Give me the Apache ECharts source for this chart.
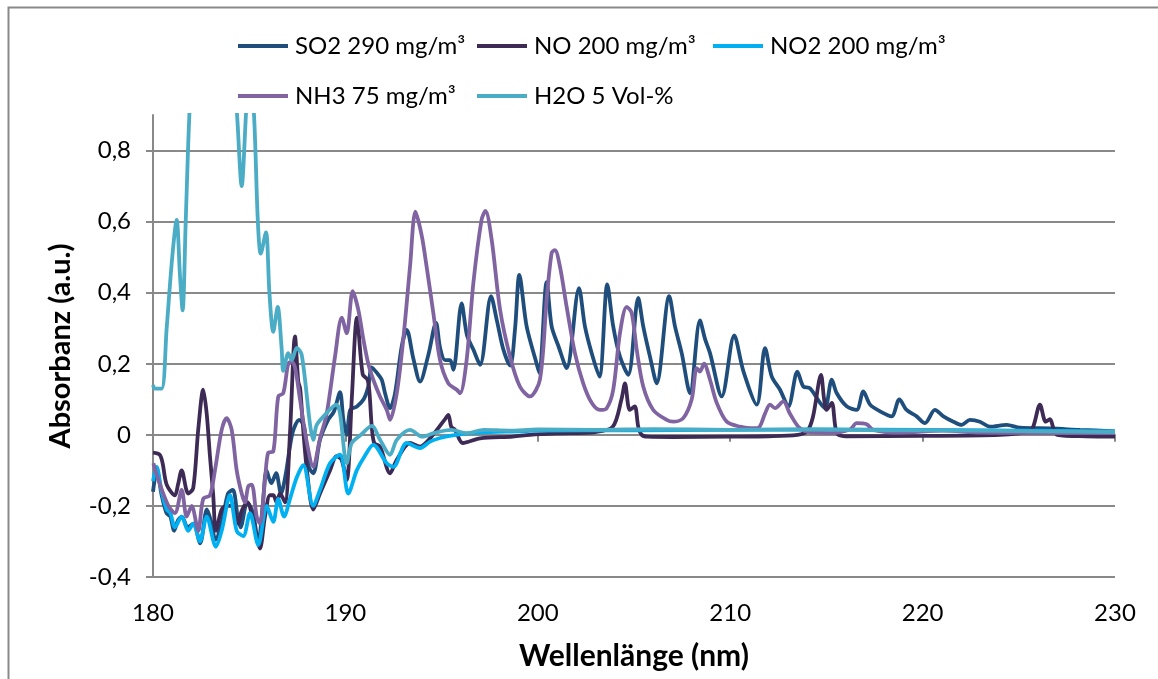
<!DOCTYPE html>
<html>
<head>
<meta charset="utf-8">
<script src="https://cdn.jsdelivr.net/npm/echarts@6/dist/echarts.min.js"></script>
<style>
html,body{margin:0;padding:0;background:#fff;}
#chart{width:1158px;height:679px;}
</style>
</head>
<body>
<div id="chart"></div>
<script>
var seriesNames = ['SO2 290 mg/m³', 'NO 200 mg/m³', 'NO2 200 mg/m³', 'NH3 75 mg/m³', 'H2O 5 Vol-%'];
var seriesColors = ['#1F4E7D', '#3D2B55', '#00B0F0', '#8064A2', '#4BACC6'];

var so2X = [180.0,180.2,180.45,180.7,180.9,181.1,181.3,181.5,181.8,182.1,182.45,182.8,183.0,183.25,183.6,183.9,184.15,184.4,184.55,184.9,185.2,185.47,185.7,185.9,186.15,186.4,186.65,186.9,187.25,187.6,187.85,188.1,188.33,188.68,189.1,189.4,189.72,189.9,190.07,190.25,190.6,190.95,191.19,191.37,191.63,191.89,192.06,192.32,192.58,192.93,193.19,193.53,193.88,194.31,194.71,194.92,195.18,195.44,195.61,196.04,196.32,196.65,197.0,197.57,197.88,198.21,198.56,198.82,199.04,199.42,199.94,200.08,200.46,200.72,201.07,201.5,202.14,202.45,202.8,203.2,203.61,203.92,204.27,204.7,205.22,205.48,205.83,206.18,206.83,207.13,207.48,207.91,208.43,208.69,208.95,209.56,210.21,210.68,211.38,211.81,212.16,212.59,213.02,213.49,213.8,214.15,214.67,214.93,215.28,215.54,216.06,216.57,216.92,217.27,217.79,218.39,218.79,219.17,219.69,220.12,220.64,221.08,221.6,222.03,222.46,222.98,223.5,224.37,225.06,226.62,228.18,230.0];
var so2Y = [-0.16,-0.10,-0.17,-0.22,-0.23,-0.27,-0.24,-0.23,-0.26,-0.25,-0.305,-0.21,-0.24,-0.295,-0.24,-0.165,-0.155,-0.23,-0.26,-0.19,-0.22,-0.305,-0.2,-0.10,-0.136,-0.108,-0.165,-0.11,0.005,0.042,0.025,-0.09,-0.108,-0.014,0.042,0.065,0.12,0.04,0.0,0.07,0.08,0.1,0.136,0.19,0.175,0.155,0.117,0.075,0.117,0.25,0.295,0.215,0.15,0.225,0.315,0.245,0.21,0.21,0.183,0.37,0.28,0.24,0.197,0.39,0.32,0.24,0.195,0.3,0.45,0.305,0.2,0.174,0.43,0.305,0.25,0.188,0.413,0.305,0.23,0.164,0.423,0.305,0.22,0.169,0.385,0.305,0.22,0.145,0.39,0.305,0.23,0.117,0.322,0.27,0.23,0.108,0.28,0.18,0.085,0.244,0.164,0.127,0.08,0.178,0.136,0.131,0.09,0.075,0.155,0.117,0.08,0.07,0.122,0.085,0.066,0.052,0.1,0.07,0.052,0.033,0.07,0.052,0.037,0.028,0.042,0.037,0.023,0.028,0.02,0.018,0.014,0.01];

var noX = [180.0,180.35,180.5,180.71,181.14,181.3,181.49,181.83,182.09,182.35,182.61,182.79,182.96,183.13,183.27,183.57,183.83,184.1,184.43,184.6,184.9,185.2,185.47,185.56,185.82,186.08,186.25,186.43,186.6,186.86,187.12,187.38,187.55,187.65,187.8,188.0,188.33,188.68,189.2,189.55,189.8,190.07,190.33,190.6,190.9,191.15,191.25,191.37,191.5,191.8,192.32,192.67,193.36,193.88,194.4,195.15,195.35,195.5,195.7,196.1,197.0,198.7,199.6,201.0,203.0,203.9,204.35,204.53,204.78,205.04,205.22,205.4,205.7,207.0,210.0,212.0,213.5,214.0,214.3,214.72,214.88,215.01,215.28,215.54,216.0,220.0,224.0,225.5,225.75,226.1,226.4,226.62,226.8,227.0,228.5,230.0];
var noY = [-0.05,-0.056,-0.08,-0.14,-0.17,-0.14,-0.10,-0.165,-0.15,0.014,0.127,0.06,-0.06,-0.17,-0.27,-0.21,-0.2,-0.2,-0.25,-0.215,-0.19,-0.24,-0.305,-0.32,-0.23,-0.17,-0.17,-0.19,-0.165,-0.19,0.005,0.277,0.15,0.13,0.02,-0.1,-0.21,-0.165,-0.1,-0.06,-0.07,-0.127,0.1,0.33,0.17,0.155,0.12,0.023,-0.023,-0.033,-0.108,-0.07,-0.023,-0.033,-0.01,0.042,0.056,0.023,0.014,-0.023,-0.01,-0.005,0.0,0.004,0.008,0.023,0.1,0.145,0.07,0.08,0.023,0.0,-0.005,-0.006,-0.005,-0.004,0.0,0.01,0.05,0.169,0.1,0.07,0.09,0.005,-0.004,-0.003,0.0,0.008,0.023,0.085,0.037,0.044,0.019,0.0,-0.004,-0.005];

var no2X = [180.0,180.19,180.45,180.71,180.9,181.14,181.49,181.83,182.09,182.44,182.79,183.27,183.57,184.0,184.35,184.69,185.04,185.47,185.91,186.25,186.51,186.81,187.12,187.47,187.81,188.33,188.68,189.2,189.72,190.15,190.59,191.0,191.45,192.15,192.49,193.19,193.88,194.4,194.92,195.5,196.5,197.5,199.0,200.0,205.0,210.0,215.0,220.0,225.0,230.0];
var no2Y = [-0.13,-0.09,-0.16,-0.21,-0.22,-0.26,-0.23,-0.27,-0.25,-0.30,-0.23,-0.315,-0.27,-0.17,-0.27,-0.285,-0.22,-0.31,-0.20,-0.245,-0.18,-0.23,-0.18,-0.12,-0.085,-0.20,-0.155,-0.08,-0.056,-0.165,-0.10,-0.06,-0.028,-0.08,-0.09,-0.023,-0.037,-0.019,-0.009,-0.002,0.005,0.008,0.01,0.012,0.013,0.014,0.015,0.014,0.012,0.01];

var nh3X = [180.02,180.28,180.8,181.14,181.49,181.75,182.01,182.35,182.61,182.96,183.22,183.57,183.83,184.09,184.35,184.61,184.78,184.95,185.13,185.39,185.56,185.82,185.99,186.25,186.51,186.77,187.03,187.21,187.38,187.64,187.99,188.33,188.68,189.03,189.46,189.81,190.07,190.38,190.67,190.93,191.19,191.45,191.8,192.15,192.32,192.67,193.01,193.36,193.64,193.97,194.23,194.57,194.92,195.35,195.79,195.96,196.3,196.65,197.08,197.28,197.6,198.04,198.56,199.07,199.59,200.11,200.46,200.72,200.89,201.15,201.5,201.93,202.36,202.8,203.23,203.58,203.92,204.27,204.62,204.88,205.14,205.48,206.0,206.7,207.04,207.56,208.0,208.26,208.43,208.64,208.95,209.3,209.82,210.51,211.03,211.46,211.81,212.07,212.33,212.76,213.1,213.54,213.98,215.19,216.23,216.57,217.09,217.44,218.83,221.06,222.98,226.62,230.0];
var nh3Y = [-0.08,-0.127,-0.2,-0.22,-0.155,-0.23,-0.2,-0.27,-0.18,-0.17,-0.1,0.014,0.047,0.014,-0.1,-0.165,-0.19,-0.145,-0.14,-0.23,-0.25,-0.127,-0.05,-0.047,0.108,0.117,0.2,0.206,0.19,0.1,-0.02,-0.09,-0.01,0.06,0.22,0.33,0.286,0.404,0.352,0.27,0.2,0.155,0.108,0.07,0.042,0.117,0.27,0.474,0.628,0.56,0.47,0.343,0.21,0.145,0.127,0.117,0.21,0.427,0.606,0.63,0.55,0.352,0.22,0.136,0.108,0.155,0.38,0.512,0.52,0.474,0.36,0.23,0.145,0.09,0.07,0.075,0.127,0.286,0.36,0.343,0.24,0.136,0.07,0.042,0.037,0.047,0.1,0.188,0.178,0.2,0.155,0.09,0.037,0.023,0.019,0.02,0.06,0.085,0.075,0.094,0.06,0.023,0.009,0.005,0.015,0.033,0.03,0.014,0.006,0.012,0.006,0.005,0.005];

var h2oX = [180.0,180.1,180.45,180.71,181.0,181.23,181.4,181.54,181.7,181.89,182.2,182.8,183.5,184.1,184.37,184.61,184.83,185.0,185.25,185.45,185.6,185.87,186.05,186.25,186.48,186.69,186.77,187.03,187.21,187.47,187.73,188.16,188.33,188.51,189.0,189.37,189.55,189.72,190.07,190.33,190.8,191.38,191.8,192.32,192.67,193.36,194.0,194.6,195.5,196.3,197.2,198.5,200.0,203.0,206.0,210.0,214.0,218.0,222.0,226.0,230.0];
var h2oY = [0.14,0.13,0.13,0.30,0.5,0.605,0.45,0.35,0.6,0.9,1.2,1.5,1.4,1.1,0.9,0.70,0.9,1.05,0.9,0.6,0.51,0.57,0.4,0.29,0.36,0.24,0.18,0.23,0.21,0.245,0.225,0.03,-0.014,0.028,0.06,0.08,0.085,0.06,-0.08,-0.023,0.0,0.025,-0.014,-0.056,-0.014,0.014,-0.005,0.005,0.014,0.005,0.014,0.012,0.015,0.014,0.016,0.014,0.015,0.013,0.012,0.01,0.008];

var xTicks = {min: 180, max: 230, step: 10};
var yTicks = {min: -0.4, max: 0.9, step: 0.2};

function zip(xs, ys) { return xs.map(function (x, i) { return [x, ys[i]]; }); }
var allX = [so2X, noX, no2X, nh3X, h2oX];
var allY = [so2Y, noY, no2Y, nh3Y, h2oY];

var FONT = 'Lato, Roboto, sans-serif';
var chart = echarts.init(document.getElementById('chart'), null, {renderer: 'canvas'});

var series = seriesNames.map(function (name, i) {
  return {
    name: name,
    type: 'line',
    data: zip(allX[i], allY[i]),
    symbol: 'none',
    smooth: 0.3,
    clip: true,
    lineStyle: {color: seriesColors[i], width: 3.8},
    itemStyle: {color: seriesColors[i]},
    emphasis: {disabled: true}
  };
});

// legend slots: [left, top] per legend entry (columns like the original)
var legendSlots = [[233, 29], [472, 29], [708, 29], [233, 79], [472, 79]];
var legends = seriesNames.map(function (name, i) {
  return {
    left: legendSlots[i][0],
    top: legendSlots[i][1],
    data: [name],
    icon: 'rect',
    itemWidth: 50,
    itemHeight: 4,
    itemStyle: {color: seriesColors[i]},
    textStyle: {fontFamily: FONT, fontSize: 24, color: '#000', padding: [0, 0, 0, 2]},
    selectedMode: false
  };
});

chart.setOption({
  animation: false,
  backgroundColor: '#fff',
  graphic: [{
    type: 'rect', left: 6, top: 5, shape: {x: 0, y: 0, width: 1200, height: 720},
    style: {fill: null, stroke: '#898989', lineWidth: 2}, silent: true, z: -1
  }],
  legend: legends,
  grid: {left: 153, right: 43, top: 115, bottom: 102, containLabel: false},
  xAxis: {
    type: 'value',
    min: xTicks.min, max: xTicks.max, interval: xTicks.step,
    name: 'Wellenlänge (nm)',
    nameLocation: 'middle',
    nameGap: 64,
    nameTextStyle: {fontFamily: FONT, fontSize: 30, fontWeight: 'bold', color: '#000'},
    axisLine: {show: true, lineStyle: {color: '#898989', width: 2}},
    axisTick: {show: true, length: 7, lineStyle: {color: '#898989', width: 2}},
    axisLabel: {fontFamily: FONT, fontSize: 24, color: '#000', margin: 24},
    splitLine: {show: false}
  },
  yAxis: {
    type: 'value',
    min: yTicks.min, max: yTicks.max, interval: yTicks.step,
    name: 'Absorbanz (a.u.)',
    nameLocation: 'middle',
    nameGap: 78,
    nameRotate: 90,
    nameTextStyle: {fontFamily: FONT, fontSize: 29, fontWeight: 'bold', color: '#000'},
    axisLine: {show: true, lineStyle: {color: '#898989', width: 2}},
    axisTick: {show: true, length: 7, lineStyle: {color: '#898989', width: 2}},
    axisLabel: {
      fontFamily: FONT, fontSize: 24, color: '#000', margin: 22, showMaxLabel: false,
      formatter: function (v) {
        if (Math.abs(v) < 1e-9) return '0';
        if (Math.abs(v - yTicks.max) < 1e-9) return '';
        return v.toFixed(1).replace('.', ',');
      }
    },
    splitLine: {show: true, showMaxLine: false, lineStyle: {color: '#898989', width: 2}}
  },
  series: series
});
</script>
</body>
</html>
